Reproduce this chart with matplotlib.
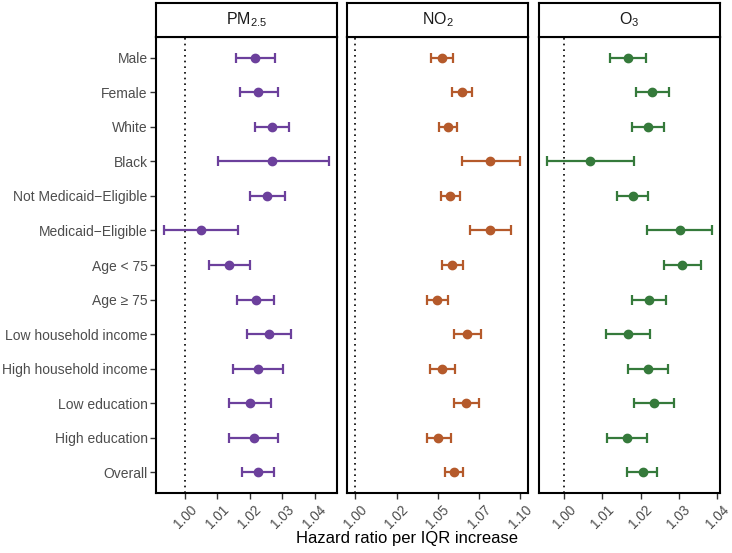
import numpy as np
import matplotlib.pyplot as plt
from matplotlib.ticker import FormatStrFormatter

plt.rcParams['font.family'] = ['Liberation Sans', 'DejaVu Sans']
plt.rcParams['mathtext.fontset'] = 'custom'
plt.rcParams['mathtext.rm'] = 'Liberation Sans'
plt.rcParams['mathtext.it'] = 'Liberation Sans:italic'

groups = ['Male', 'Female', 'White', 'Black', 'Not Medicaid\u2212Eligible',
          'Medicaid\u2212Eligible', 'Age < 75', 'Age \u2265 75',
          'Low household income', 'High household income', 'Low education',
          'High education', 'Overall']

pm25_hr = [1.0216, 1.0226, 1.0269, 1.0270, 1.0254, 1.0050, 1.0137, 1.0219,
           1.0259, 1.0224, 1.0200, 1.0212, 1.0225]
pm25_lo = [1.0157, 1.0170, 1.0216, 1.0102, 1.0202, 0.9936, 1.0075, 1.0162,
           1.0192, 1.0148, 1.0135, 1.0137, 1.0175]
pm25_hi = [1.0277, 1.0287, 1.0322, 1.0444, 1.0308, 1.0164, 1.0200, 1.0275,
           1.0328, 1.0302, 1.0265, 1.0288, 1.0276]

no2_hr = [1.0527, 1.0645, 1.0561, 1.0818, 1.0575, 1.0818, 1.0587, 1.0497,
          1.0677, 1.0527, 1.0669, 1.0503, 1.0595]
no2_lo = [1.0457, 1.0583, 1.0505, 1.0649, 1.0517, 1.0697, 1.0523, 1.0437,
          1.0599, 1.0455, 1.0595, 1.0433, 1.0541]
no2_hi = [1.0593, 1.0709, 1.0617, 1.0996, 1.0633, 1.0944, 1.0655, 1.0559,
          1.0760, 1.0601, 1.0747, 1.0577, 1.0651]

o3_hr = [1.0167, 1.0230, 1.0219, 1.0068, 1.0180, 1.0302, 1.0309, 1.0223,
         1.0166, 1.0219, 1.0234, 1.0164, 1.0205]
o3_lo = [1.0121, 1.0187, 1.0178, 0.9956, 1.0138, 1.0217, 1.0260, 1.0178,
         1.0109, 1.0168, 1.0182, 1.0111, 1.0164]
o3_hi = [1.0215, 1.0275, 1.0261, 1.0184, 1.0220, 1.0386, 1.0358, 1.0267,
         1.0225, 1.0272, 1.0286, 1.0218, 1.0244]

pollutants = ['PM$_{2.5}$', 'NO$_2$', 'O$_3$']
colors = ['#6c409c', '#b55a2b', '#357a3b']
ticks = [[1.00, 1.01, 1.02, 1.03, 1.04],
         [1.000, 1.025, 1.050, 1.075, 1.100],
         [1.00, 1.01, 1.02, 1.03, 1.04]]
series = [(pm25_hr, pm25_lo, pm25_hi), (no2_hr, no2_lo, no2_hi),
          (o3_hr, o3_lo, o3_hi)]

W, H = 732, 553
fig = plt.figure(figsize=(W / 100, H / 100), dpi=100)

lefts = [156, 347, 539]
pw = 181
top, bottom, head_top = 37, 493, 3
ypos = np.arange(len(groups))[::-1] + 1

for i in range(3):
    hr, lo, hi = [np.array(s) for s in series[i]]
    ax = fig.add_axes([lefts[i] / W, 1 - bottom / H, pw / W, (bottom - top) / H])
    # reference line at HR = 1
    ax.axvline(1.0, color='black', ls=(0, (1, 2.4)), lw=1.2, zorder=1)
    ax.errorbar(hr, ypos, xerr=[hr - lo, hi - hr], fmt='o', color=colors[i],
                ms=6, elinewidth=1.6, capsize=3.4, capthick=1.6, zorder=3)
    ax.margins(x=0.05)
    ax.set_ylim(0.4, len(groups) + 0.6)
    ax.set_xticks(ticks[i])
    ax.xaxis.set_major_formatter(FormatStrFormatter('%.2f'))
    for lbl in ax.get_xticklabels():
        lbl.set_rotation(45)
        lbl.set_ha('center')
        lbl.set_va('top')
    ax.tick_params(axis='x', length=4, width=1, color='#333333', labelsize=9.8,
                   labelcolor='#4d4d4d', pad=3)
    if i == 0:
        ax.set_yticks(ypos)
        ax.set_yticklabels(groups)
        ax.tick_params(axis='y', length=4, width=1, color='#333333',
                       labelsize=10, labelcolor='#4d4d4d', pad=2)
    else:
        ax.set_yticks([])
    for sp in ax.spines.values():
        sp.set_linewidth(1.5)
        sp.set_color('black')

    hax = fig.add_axes([lefts[i] / W, 1 - top / H, pw / W, (top - head_top) / H])
    hax.set_xticks([])
    hax.set_yticks([])
    for sp in hax.spines.values():
        sp.set_linewidth(1.5)
        sp.set_color('black')
    hax.text(0.5, 0.5, pollutants[i], ha='center', va='center', fontsize=11.5,
             color='#1a1a1a', transform=hax.transAxes)

fig.text(407 / W, 1 - 539 / H, 'Hazard ratio per IQR increase', ha='center',
         va='center', fontsize=12, color='black')

fig.savefig('out.png', dpi=100)
